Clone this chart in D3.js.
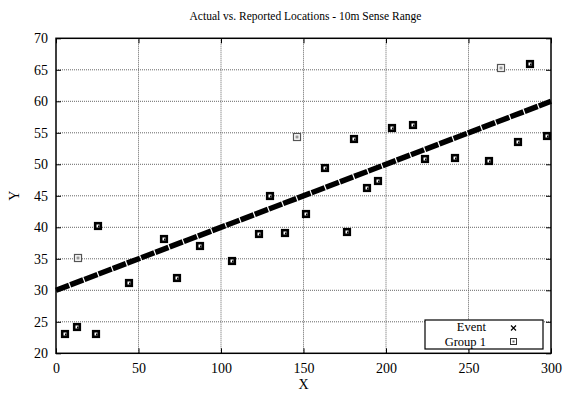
<!DOCTYPE html>
<html>
<head>
<meta charset="utf-8">
<script src="https://cdn.jsdelivr.net/npm/d3@7"></script>
<style>
  body { margin: 0; background: #fff; }
  text { font-family: "Liberation Serif", "Times New Roman", serif; fill: #000; }
</style>
</head>
<body>
<div id="chart"></div>
<script>
const xTicks = [0, 50, 100, 150, 200, 250, 300];
const yTicks = [20, 25, 30, 35, 40, 45, 50, 55, 60, 65, 70];

// event: actual location track
const eventX = [0, 300];
const eventY = [30, 60];

// group 1: reported locations (reports = how many overlap at that spot)
const groupX = [5.5, 12.9, 24.1, 13.3, 25.6, 44.4, 65.5, 73.5, 87.3, 106.8, 123.2, 129.9, 146.3, 138.8, 151.3,
  163.2, 176.5, 180.6, 188.7, 195.3, 203.5, 216.6, 223.8, 242.0, 262.6, 280.2, 297.4, 269.7, 287.5];
const groupY = [23.0, 24.1, 23.0, 35.2, 40.2, 31.2, 38.1, 31.9, 37.0, 34.6, 39.0, 44.9, 54.4, 39.1, 42.1,
  49.4, 39.3, 54.0, 46.3, 47.3, 55.8, 56.2, 50.9, 51.0, 50.5, 53.6, 54.5, 65.3, 65.9];
const groupReports = [3, 3, 3, 1, 3, 3, 3, 3, 3, 3, 3, 3, 1, 3, 3,
  3, 3, 3, 3, 3, 3, 3, 3, 3, 3, 3, 3, 1, 3];

const width = 563, height = 397;
const margin = { left: 56, right: 12, top: 38, bottom: 44 };

const svg = d3.select("#chart").append("svg")
  .attr("width", width).attr("height", height);

const x = d3.scaleLinear().domain([0, 300]).range([margin.left, width - margin.right]);
const y = d3.scaleLinear().domain([20, 70]).range([height - margin.bottom + 0.3, margin.top + 0.3]);

// grid
svg.append("g").selectAll("line").data(xTicks.slice(1, -1)).join("line")
  .attr("x1", d => x(d)).attr("x2", d => x(d))
  .attr("y1", y(20)).attr("y2", y(70))
  .attr("stroke", "#666").attr("stroke-width", 1).attr("stroke-dasharray", "1,1");
svg.append("g").selectAll("line").data(yTicks.slice(1, -1)).join("line")
  .attr("y1", d => y(d)).attr("y2", d => y(d))
  .attr("x1", x(0)).attr("x2", x(300))
  .attr("stroke", "#666").attr("stroke-width", 1).attr("stroke-dasharray", "1,1");

// axes with inner ticks, mirrored
const tick = 5;
svg.append("g").attr("transform", `translate(0,${y(20)})`)
  .call(d3.axisBottom(x).tickValues(xTicks).tickSize(-tick).tickPadding(10))
  .call(g => g.select(".domain").remove())
  .call(g => g.selectAll("text").attr("font-size", 14).attr("font-family", "Liberation Serif"));
svg.append("g").attr("transform", `translate(0,${y(70)})`)
  .call(d3.axisTop(x).tickValues(xTicks).tickSize(-tick).tickFormat(""))
  .call(g => g.select(".domain").remove());
svg.append("g").attr("transform", `translate(${x(0)},0)`)
  .call(d3.axisLeft(y).tickValues(yTicks).tickSize(-tick).tickPadding(8))
  .call(g => g.select(".domain").remove())
  .call(g => g.selectAll("text").attr("font-size", 14).attr("font-family", "Liberation Serif"));
svg.append("g").attr("transform", `translate(${x(300)},0)`)
  .call(d3.axisRight(y).tickValues(yTicks).tickSize(-tick).tickFormat(""))
  .call(g => g.select(".domain").remove());

// event track: dense x markers drawn as a thick broken band
svg.append("path")
  .datum(eventX.map((d, i) => [d, eventY[i]]))
  .attr("d", d3.line().x(d => x(d[0])).y(d => y(d[1])))
  .attr("fill", "none").attr("stroke", "#000")
  .attr("stroke-width", 5.5)
  .attr("stroke-dasharray", "14,1.2");

// group 1 markers
const pts = groupX.map((d, i) => ({ x: d, y: groupY[i], n: groupReports[i] }));
const mk = svg.append("g").selectAll("g").data(pts).join("g")
  .attr("transform", d => `translate(${Math.round(x(d.x))},${Math.round(y(d.y))})`);
mk.append("rect")
  .attr("x", -3.5).attr("y", -3.5).attr("width", 7).attr("height", 7)
  .attr("fill", d => d.n > 1 ? "#000" : "#fff")
  .attr("stroke", d => d.n > 1 ? "#000" : "#555").attr("stroke-width", 1.2);
mk.append("rect")
  .attr("x", -1.5).attr("y", -1.5).attr("width", 3).attr("height", 3)
  .attr("fill", d => d.n > 1 ? "#fff" : "#999");
mk.filter(d => d.n > 1).append("rect")
  .attr("x", 0).attr("y", -0.5).attr("width", 1.5).attr("height", 2)
  .attr("fill", "#000");

// frame
svg.append("rect")
  .attr("x", x(0)).attr("y", y(70))
  .attr("width", x(300) - x(0)).attr("height", y(20) - y(70))
  .attr("fill", "none").attr("stroke", "#000").attr("stroke-width", 1.5);

// legend
const lg = svg.append("g");
lg.append("rect").attr("x", 425).attr("y", 320).attr("width", 118).attr("height", 29)
  .attr("fill", "#fff").attr("stroke", "#000").attr("stroke-width", 1.2);
lg.append("text").attr("x", 486).attr("y", 331).attr("text-anchor", "end")
  .attr("font-size", 12.5).text("Event");
lg.append("text").attr("x", 486).attr("y", 345.5).attr("text-anchor", "end")
  .attr("font-size", 12.5).text("Group 1");
lg.append("path").attr("d", "M511,325.5l5,5M516,325.5l-5,5")
  .attr("stroke", "#000").attr("stroke-width", 1.2);
lg.append("rect").attr("x", 510.5).attr("y", 338.5).attr("width", 6).attr("height", 6)
  .attr("fill", "#fff").attr("stroke", "#333").attr("stroke-width", 1);
lg.append("rect").attr("x", 512.5).attr("y", 340.5).attr("width", 2).attr("height", 2)
  .attr("fill", "#666");

// titles
svg.append("text").attr("x", (x(0) + x(300)) / 2 + 2).attr("y", 20)
  .attr("text-anchor", "middle").attr("font-size", 11.5)
  .text("Actual vs. Reported Locations - 10m Sense Range");
svg.append("text").attr("x", (x(0) + x(300)) / 2).attr("y", 389)
  .attr("text-anchor", "middle").attr("font-size", 14).text("X");
svg.append("text").attr("transform", `translate(19,${(y(20) + y(70)) / 2}) rotate(-90)`)
  .attr("text-anchor", "middle").attr("font-size", 14).text("Y");
</script>
</body>
</html>
